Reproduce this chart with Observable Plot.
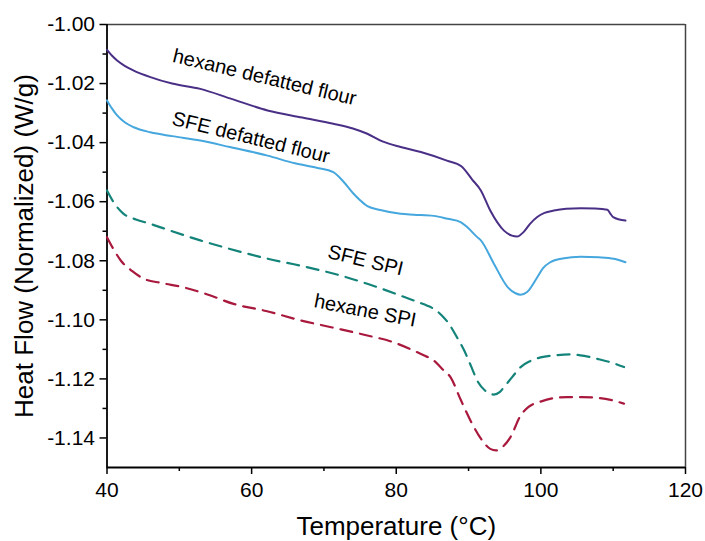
<!DOCTYPE html>
<html>
<head>
<meta charset="utf-8">
<script src="https://cdn.jsdelivr.net/npm/d3@7"></script>
<script src="https://cdn.jsdelivr.net/npm/@observablehq/plot@0.6"></script>
<style>
  html, body { margin: 0; padding: 0; background: #fff; }
  #chart { width: 705px; height: 541px; }
</style>
</head>
<body>
<div id="chart"></div>
<script>
// ---- data ----
const hexFlourT = [40, 40.7, 41.4, 42.5, 43.7, 46, 49, 52.9, 57, 62.2, 67, 71.3, 74, 76, 78, 80.6, 83.4, 87, 89, 90.5, 91.7, 93, 94.9, 96, 96.7, 97.6, 98.5, 99.5, 100.5, 101.8, 103.5, 105.5, 107.5, 109.2, 109.6, 110, 111.7];
const hexFlourV = [-1.0086, -1.0106, -1.0122, -1.0141, -1.0156, -1.0178, -1.0200, -1.0218, -1.0250, -1.0291, -1.0315, -1.0336, -1.0352, -1.0370, -1.0395, -1.0415, -1.0432, -1.0461, -1.0480, -1.0525, -1.0562, -1.0630, -1.0698, -1.0715, -1.0718, -1.0703, -1.0675, -1.0652, -1.0638, -1.0630, -1.0624, -1.0622, -1.0623, -1.0627, -1.0640, -1.0652, -1.0664];

const sfeFlourT = [40, 40.7, 41.4, 42.5, 43.7, 46, 49, 52.9, 57, 62.2, 66, 69, 71.3, 72.8, 74.1, 75, 76, 77.8, 80.6, 82.4, 85.2, 87.1, 88.9, 89.8, 91.2, 91.7, 93.5, 95.4, 96.5, 97.2, 98.1, 99.5, 100.3, 101.3, 103, 105.5, 108, 110.1, 111.7];
const sfeFlourV = [-1.0257, -1.0285, -1.0308, -1.0332, -1.0348, -1.0365, -1.0378, -1.0393, -1.0415, -1.0444, -1.0470, -1.0485, -1.0500, -1.0535, -1.0573, -1.0595, -1.0615, -1.0628, -1.0641, -1.0644, -1.0648, -1.0658, -1.0669, -1.0686, -1.0720, -1.0731, -1.0810, -1.0889, -1.0910, -1.0915, -1.0906, -1.0856, -1.0825, -1.0805, -1.0792, -1.0786, -1.0788, -1.0793, -1.0805];

const sfeSpiT = [40, 41, 42.3, 44, 46, 49, 52.9, 57, 62.2, 67, 71.4, 76, 80.6, 83, 84.3, 85.2, 86.3, 87.3, 88.3, 89.4, 90.4, 91.2, 92.3, 93.5, 94.3, 94.9, 96, 97.2, 98.5, 99.96, 102, 104.1, 106, 107.8, 109.8, 111.5];
const sfeSpiV = [-1.0562, -1.0605, -1.0641, -1.0660, -1.0675, -1.0700, -1.0731, -1.0760, -1.0793, -1.0818, -1.0844, -1.0878, -1.0918, -1.0940, -1.0952, -1.0963, -1.0985, -1.1014, -1.1055, -1.1104, -1.1160, -1.1206, -1.1240, -1.1253, -1.1245, -1.1228, -1.1195, -1.1160, -1.1140, -1.1127, -1.1120, -1.1117, -1.1122, -1.1132, -1.1145, -1.1160];

const hexSpiT = [40, 41, 41.9, 43.5, 45.1, 47.5, 50.6, 54, 57.5, 62, 66.8, 71, 76, 79.5, 82.4, 83.8, 85.2, 86.5, 87.5, 88.9, 90.5, 91.9, 93, 93.8, 94.8, 95.8, 97.2, 98.3, 99.96, 101.8, 103.6, 105.7, 107.8, 109.8, 111.5];
const hexSpiV = [-1.0720, -1.0765, -1.0799, -1.0835, -1.0861, -1.0875, -1.0890, -1.0915, -1.0946, -1.0970, -1.1002, -1.1025, -1.1053, -1.1075, -1.1104, -1.1120, -1.1138, -1.1170, -1.1194, -1.1270, -1.1352, -1.1409, -1.1437, -1.1442, -1.1428, -1.1397, -1.1324, -1.1295, -1.1277, -1.1265, -1.1262, -1.1262, -1.1264, -1.1272, -1.1284];

const seriesNames = ["hexane defatted flour", "SFE defatted flour", "SFE SPI", "hexane SPI"];
const xTicks = [40, 60, 80, 100, 120];
const xMinorTicks = [50, 70, 90, 110];
const yTicks = [-1.00, -1.02, -1.04, -1.06, -1.08, -1.10, -1.12, -1.14];
const yMinorTicks = [-1.01, -1.03, -1.05, -1.07, -1.09, -1.11, -1.13];
const xLabel = "Temperature (°C)";
const yLabel = "Heat Flow (Normalized) (W/g)";

// annotation anchor points (data coords) and rotation
const labelX = [61.8, 59.9, 75.75, 75.7];
const labelY = [-1.0179, -1.0383, -1.0799, -1.0969];
const labelRot = [13.4, 13.8, 13.5, 11];

// ---- build ----
const toRows = (T, V) => T.map((t, i) => ({t, v: V[i]}));
const hexFlour = toRows(hexFlourT, hexFlourV);
const sfeFlour = toRows(sfeFlourT, sfeFlourV);
const sfeSpi = toRows(sfeSpiT, sfeSpiV);
const hexSpi = toRows(hexSpiT, hexSpiV);

const font = "'Liberation Sans', Arial, Helvetica, sans-serif";
const fmt = d => d.toFixed(2);

const chart = Plot.plot({
  width: 705,
  height: 541,
  marginLeft: 106.5,
  marginRight: 20,
  marginTop: 24,
  marginBottom: 74,
  style: {fontFamily: font, background: "#fff", overflow: "visible"},
  x: {domain: [40, 120]},
  y: {domain: [-1.15, -1.00]},
  marks: [
    // frame
    Plot.ruleY([-1.00], {stroke: "#444", strokeWidth: 1.5}),
    Plot.ruleX([120], {stroke: "#444", strokeWidth: 1.5}),
    // axes
    Plot.axisX({ticks: xTicks, tickSize: 7, tickPadding: 8, fontSize: 21, tickFormat: d => String(d), label: null, stroke: "#000", strokeWidth: 1.5, color: "#000"}),
    Plot.axisX({ticks: xMinorTicks, tickSize: 4, tickFormat: () => "", label: null, stroke: "#000", strokeWidth: 1.5}),
    Plot.axisY({ticks: yTicks, tickSize: 7, tickPadding: 5, fontSize: 21, tickFormat: fmt, label: null, stroke: "#000", strokeWidth: 1.5, color: "#000"}),
    Plot.axisY({ticks: yMinorTicks, tickSize: 4, tickFormat: () => "", label: null, stroke: "#000", strokeWidth: 1.5}),
    Plot.ruleX([40], {stroke: "#000", strokeWidth: 1.8}),
    Plot.ruleY([-1.15], {stroke: "#000", strokeWidth: 1.8}),
    // curves
    Plot.line(hexFlour, {x: "t", y: "v", stroke: "#4a2f86", strokeWidth: 2, curve: "monotone-x"}),
    Plot.line(sfeFlour, {x: "t", y: "v", stroke: "#45a7dd", strokeWidth: 2, curve: "monotone-x"}),
    Plot.line(sfeSpi, {x: "t", y: "v", stroke: "#14847a", strokeWidth: 2.2, strokeDasharray: "12,8", curve: "monotone-x"}),
    Plot.line(hexSpi, {x: "t", y: "v", stroke: "#a8193d", strokeWidth: 2.2, strokeDasharray: "12,8", curve: "monotone-x"}),
    // annotations
    ...seriesNames.map((name, i) => Plot.text([name], {x: () => labelX[i], y: () => labelY[i], text: d => d, rotate: labelRot[i], fontSize: 20, fill: "#000", textAnchor: "middle", lineAnchor: "middle"})),
    // axis titles
    Plot.text([xLabel], {frameAnchor: "bottom", text: d => d, dy: 59, fontSize: 26, fill: "#000", textAnchor: "middle", lineAnchor: "middle"}),
    Plot.text([yLabel], {frameAnchor: "left", text: d => d, dx: -82.5, rotate: -90, fontSize: 26, fill: "#000", textAnchor: "middle", lineAnchor: "middle"})
  ]
});
document.getElementById("chart").appendChild(chart);
</script>
</body>
</html>
